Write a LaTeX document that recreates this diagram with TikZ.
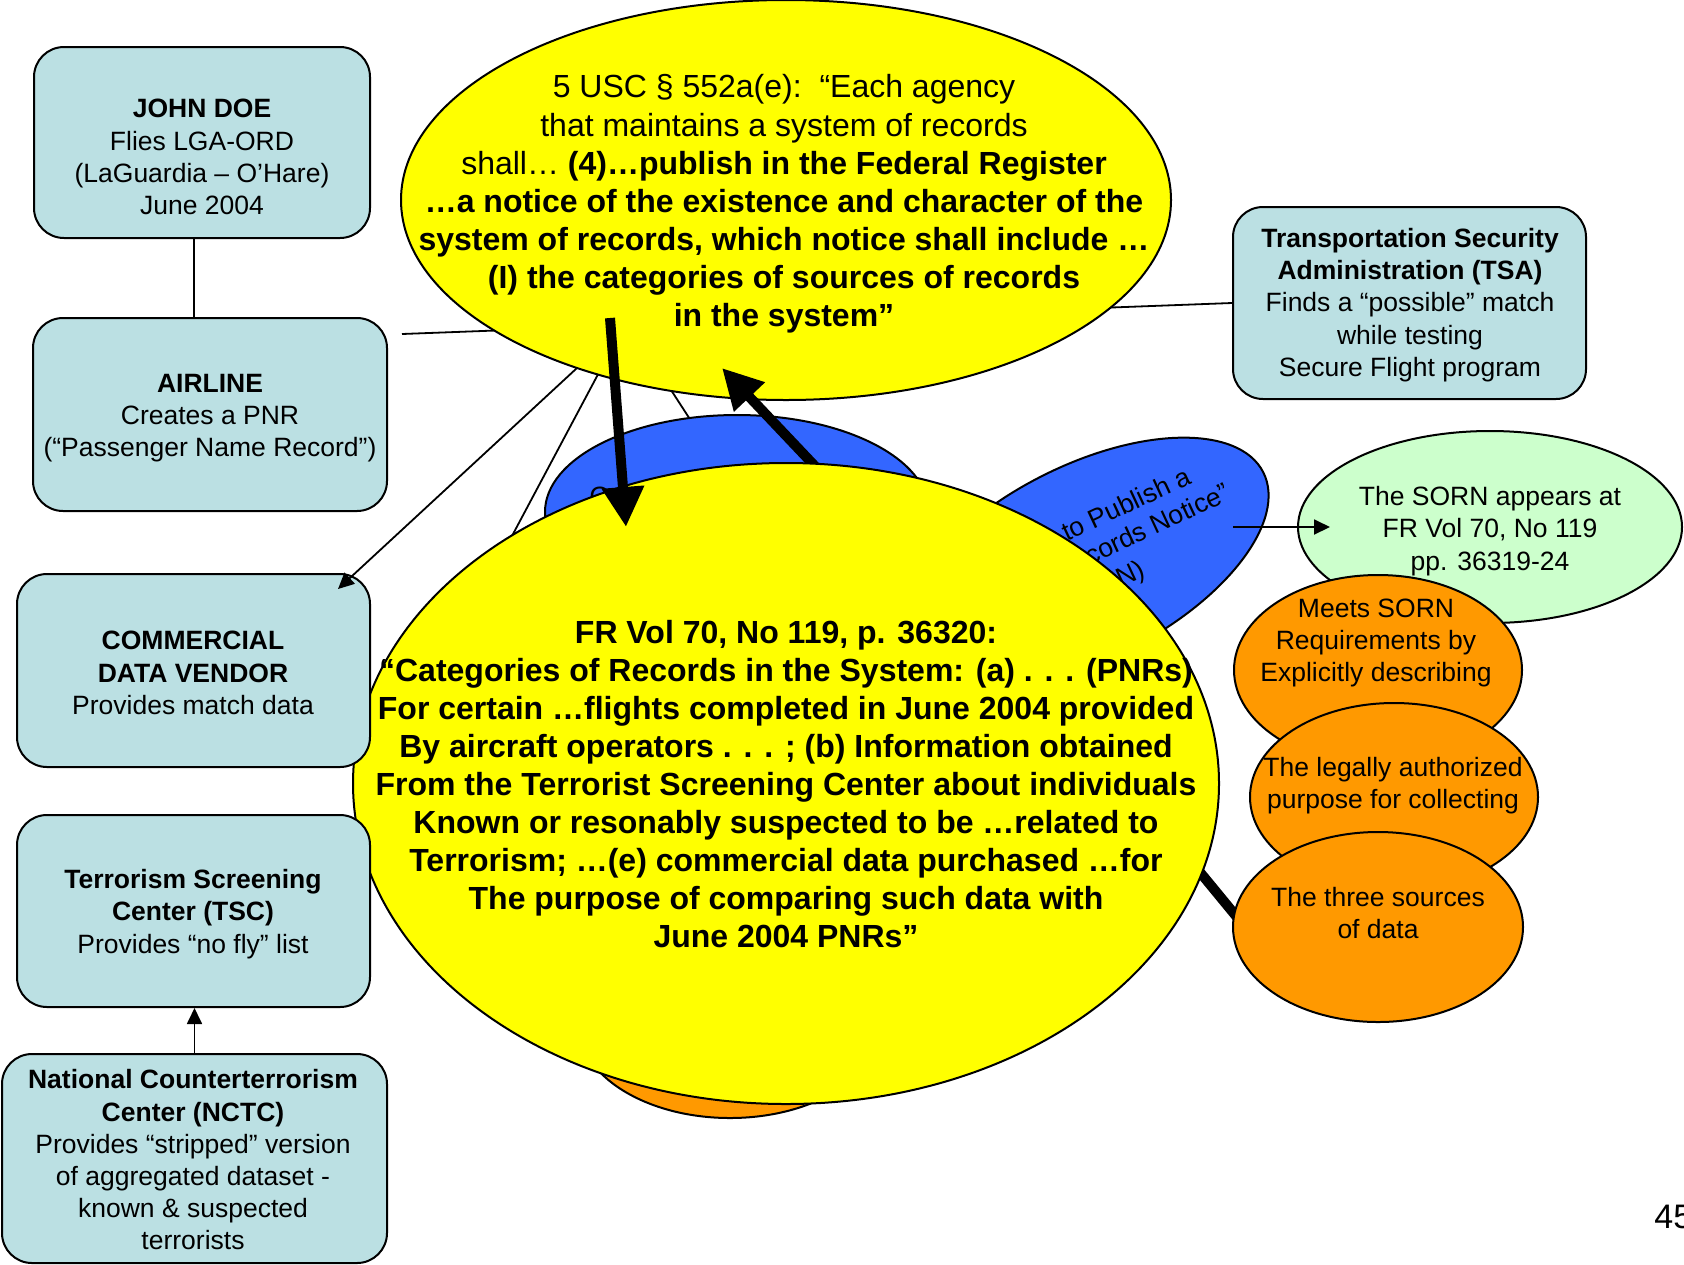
\documentclass[tikz,border=0pt]{standalone}
\usepackage{fontspec}
\setmainfont{Liberation Sans}
\usetikzlibrary{shapes.geometric,arrows.meta}
\definecolor{boxfill}{RGB}{187,224,227}
\definecolor{ylw}{RGB}{255,255,0}
\definecolor{blu}{RGB}{51,102,255}
\definecolor{org}{RGB}{255,153,0}
\definecolor{grn}{RGB}{204,255,204}
\newcommand\boxfont{\fontsize{13.25}{16.1}\selectfont}
\newcommand\bigfont{\fontsize{16}{19.05}\selectfont}
\begin{document}
\begin{tikzpicture}[x=0.5pt,y=-0.5pt,
  infobox/.style={draw=black, line width=1pt, fill=boxfill, rounded corners=15pt, inner sep=0pt},
  oval/.style={ellipse, draw=black, line width=1pt, inner sep=0pt},
  txt/.style={align=center, font=\boxfont, inner sep=0pt},
  bigtxt/.style={align=center, font=\bigfont, inner sep=0pt},
  thinline/.style={line width=0.9pt},
  fatarrow/.style={line width=5pt, -{Triangle[width=20pt,length=20pt]}},
  fatline/.style={line width=5pt},
  smallarrow/.style={line width=0.9pt, -{Triangle[width=7.5pt,length=8pt]}},
]
\useasboundingbox (0,0) rectangle (1684,1264);

% free ends of connectors
\coordinate (laS) at (402,334);
\coordinate (lcS) at (620,333);
\coordinate (lcE) at (496,566);
\coordinate (ldS) at (660,373);
\coordinate (ldE) at (695,427);
\coordinate (t3S) at (1185,854);
\coordinate (t3E) at (1250,933);
\coordinate (t2S) at (830,482);
\coordinate (t2E) at (722,368);
\coordinate (t1S) at (610,318);
\coordinate (t1E) at (626,527);
\coordinate (lbS) at (577,368);
\coordinate (lbE) at (338,589);
\coordinate (bgS) at (1233,527);
\coordinate (bgE) at (1330,527);

% TSA box (needed for connector)
\node[infobox, minimum width=176.5pt, minimum height=96pt] (tsa) at (1409.5,303) {};

% thin lines behind the ellipses
\draw[thinline] (laS) -- (tsa.west);
\draw[thinline] (lcS) -- (lcE);
\draw[thinline] (ldS) -- (ldE);
\draw[fatline] (t3S) -- (t3E);

% top yellow ellipse
\node[oval, fill=ylw, minimum width=385pt, minimum height=200pt] (topy) at (786,200) {};
\node[bigtxt] (topyT) at (784,204) {5 USC § 552a(e):\ \ “Each agency\\
that maintains a system of records\\
shall… \textbf{(4)…publish in the Federal Register}\\
\textbf{…a notice of the existence and character of the}\\
\textbf{system of records, which notice shall include …}\\
\textbf{(I) the categories of sources of records}\\
\textbf{in the system”}};

% blue ellipses and bottom orange
\node[oval, fill=blu, minimum width=192pt, minimum height=97pt] (lblue) at (737,512) {};
\node[txt] (lblueT) at (600,496) {O};
\draw[fatarrow] (t2S) -- (t2E);
\node[oval, fill=blu, rotate=27, minimum width=200pt, minimum height=97pt] (rblue) at (1085,563) {};
\node[txt, rotate=25, anchor=base east] (rb1) at (1193,483) {to Publish a};
\node[txt, rotate=25, anchor=base east] (rb2) at (1232,499) {cords Notice”};
\node[txt, rotate=25, anchor=base east] (rb3) at (1147,576) {N)};
\node[oval, fill=org, minimum width=152pt, minimum height=95pt] (borg) at (730,1023) {};

% lower yellow ellipse
\node[oval, fill=ylw, minimum width=433pt, minimum height=320.5pt] (lowy) at (786,783.5) {};
\node[bigtxt] (lowyT) at (786,784) {\textbf{FR Vol 70, No 119, p. 36320:}\\
\textbf{“Categories of Records in the System: (a) . . . (PNRs)}\\
\textbf{For certain …flights completed in June 2004 provided}\\
\textbf{By aircraft operators . . . ; (b) Information obtained}\\
\textbf{From the Terrorist Screening Center about individuals}\\
\textbf{Known or resonably suspected to be …related to}\\
\textbf{Terrorism; …(e) commercial data purchased …for}\\
\textbf{The purpose of comparing such data with}\\
\textbf{June 2004 PNRs”}};

% left boxes
\node[infobox, minimum width=168pt, minimum height=95.5pt] (jd) at (202,142.5) {};
\node[txt] (jdT) at (202,157) {\textbf{JOHN DOE}\\Flies LGA-ORD\\(LaGuardia – O’Hare)\\June 2004};
\node[infobox, minimum width=177pt, minimum height=96.5pt] (air) at (210,414.5) {};
\node[txt] (airT) at (210,418) {\textbf{AIRLINE}\\Creates a PNR\\(“Passenger Name Record”)};
\node[infobox, minimum width=176.5pt, minimum height=96.5pt] (cdv) at (193.5,670.5) {};
\node[txt] (cdvT) at (193,673) {\textbf{COMMERCIAL}\\\textbf{DATA VENDOR}\\Provides match data};
\node[infobox, minimum width=176.5pt, minimum height=96pt] (tsc) at (193.5,911) {};
\node[txt] (tscT) at (193,914) {\textbf{Terrorism Screening}\\\textbf{Center (TSC)}\\Provides “no fly” list};
\node[infobox, minimum width=192.5pt, minimum height=104.5pt] (nctc) at (194.5,1158.5) {};
\node[txt] (nctcT) at (193,1160) {\textbf{National Counterterrorism}\\\textbf{Center (NCTC)}\\Provides “stripped” version\\of aggregated dataset -\\known \& suspected\\terrorists};
\node[txt] (tsaT) at (1410,305) {\textbf{Transportation Security}\\\textbf{Administration (TSA)}\\Finds a “possible” match\\while testing\\Secure Flight program};

% connectors among boxes
\draw[thinline] (194,0 |- jd.south) -- (194,0 |- air.north);
\draw[smallarrow] (nctc.north) -- (nctc.north |- tsc.south);
\draw[smallarrow] (lbS) -- (lbE);

% right ellipses
\node[oval, fill=grn, minimum width=192pt, minimum height=96pt] (sorn) at (1490,527) {};
\node[txt] (sornT) at (1490,531) {The SORN appears at\\FR Vol 70, No 119\\pp. 36319-24};
\draw[smallarrow] (bgS) -- (bgE);
\node[oval, fill=org, minimum width=144pt, minimum height=95pt] (o1) at (1378,670) {};
\node[txt] (o1T) at (1376,643) {Meets SORN\\Requirements by\\Explicitly describing};
\node[oval, fill=org, minimum width=144pt, minimum height=94pt] (o2) at (1394,797) {};
\node[txt] (o2T) at (1393,786) {The legally authorized\\purpose for collecting};
\node[oval, fill=org, minimum width=145pt, minimum height=95pt] (o3) at (1378,927) {};
\node[txt] (o3T) at (1378,913) {The three sources\\of data};

% thick arrow on top
\draw[fatarrow] (t1S) -- (t1E);

% page number
\node[font=\fontsize{17}{20}\selectfont, inner sep=0pt, anchor=base west] (pg) at (1654,1228) {45};
\end{tikzpicture}
\end{document}
